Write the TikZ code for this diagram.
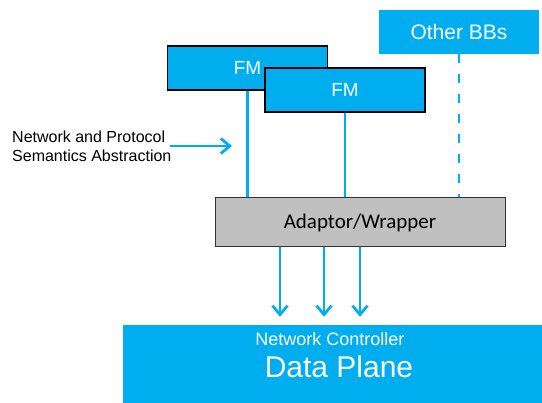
\documentclass[tikz,border=0pt]{standalone}
\usepackage{fontspec}
\setmainfont{Liberation Sans}
\newfontfamily\calibri{Carlito}
\usetikzlibrary{arrows.meta}
\definecolor{bbcyan}{RGB}{0,174,239}
\definecolor{wrapgrey}{RGB}{192,192,192}

\begin{document}
\begin{tikzpicture}[x=1pt, y=-1pt, every node/.style={inner sep=0pt},
  block/.style={fill=bbcyan, text=white, font=\fontsize{19}{23}\selectfont},
  fmbox/.style={block, draw=black, line width=1.2pt, minimum width=160pt, minimum height=44pt},
  link/.style={draw=bbcyan, line width=2.8pt},
  flow/.style={link, -{Straight Barb[length=9pt, width=15pt]}}]
\useasboundingbox (0,0) rectangle (542,403);
% upper building blocks
\node[block, minimum width=160pt, minimum height=44pt, font=\fontsize{21}{25}\selectfont] (otherbb) at (459,32) {Other BBs};
\node[fmbox] (fma) at (247.5,68) {FM};
\node[fmbox] (fmb) at (345,90) {FM};
\node[draw=black!80, fill=wrapgrey, line width=1pt, minimum width=290pt, minimum height=49pt,
      font=\calibri\fontsize{21}{25}\selectfont] (adaptor) at (360,222.5) {Adaptor/Wrapper};
% data plane
\node[block, minimum width=422pt, minimum height=82pt] (dataplane) at (334,366) {};
\node[text=white, font=\fontsize{18}{22}\selectfont, anchor=base] (netctrl) at (330,346) {Network Controller};
\node[text=white, font=\fontsize{30}{36}\selectfont, anchor=base] (dpname) at (339,378) {Data Plane};
% abstraction label
\node[align=left, anchor=west, font=\fontsize{16}{19}\selectfont] (semantics) at (12,146) {Network and Protocol\\Semantics Abstraction};
\coordinate (semtip) at (232,146);
\draw[flow] ([xshift=-2pt]semantics.east) -- (semtip);
% connectors
\draw[link] (fma.south) -- (fma.south |- adaptor.north);
\draw[link] (fmb.south) -- (fmb.south |- adaptor.north);
\draw[link, dash pattern=on 9pt off 11pt] (otherbb.south) -- (otherbb.south |- adaptor.north);
\foreach \dx in {-80,-36,0}
  \draw[flow, shorten >=8pt] ([xshift=\dx pt]adaptor.south) -- ([xshift=\dx pt]adaptor.south |- dataplane.north);
\end{tikzpicture}
\end{document}
